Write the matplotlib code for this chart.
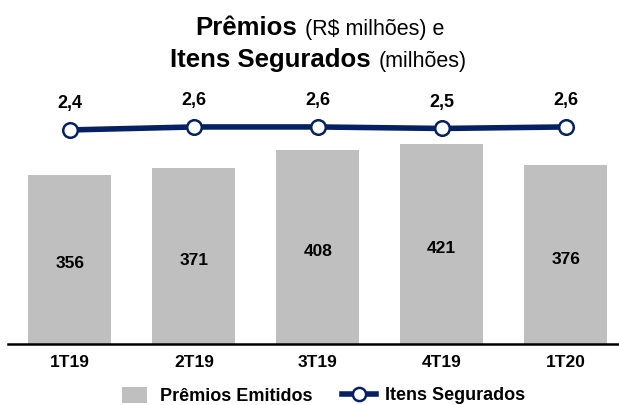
import matplotlib.pyplot as plt
from matplotlib.patches import Patch
from matplotlib.lines import Line2D

plt.rcParams['font.family'] = ['Liberation Sans', 'DejaVu Sans']

quarters = ['1T19', '2T19', '3T19', '4T19', '1T20']
premios = [356, 371, 408, 421, 376]
itens = [2.4, 2.6, 2.6, 2.5, 2.6]
itens_labels = ['2,4', '2,6', '2,6', '2,5', '2,6']

bar_color = '#bfbfbf'
line_color = '#062163'

W, H = 619, 405
fig = plt.figure(figsize=(W / 100, H / 100), dpi=100)
# axes in pixel units: x 8..619, y (top) 95..344
ax = fig.add_axes([8 / W, 1 - 344 / H, 611 / W, (344 - 95) / H])

x = list(range(len(quarters)))
ax.bar(x, premios, width=0.67, color=bar_color, zorder=1)
for xi, v in zip(x, premios):
    ax.text(xi, v * 0.475, str(v), ha='center', va='center',
            fontsize=12.5, fontweight='bold')
ax.set_xlim(-0.5, 4.43)
ax.set_ylim(0, 524)
ax.set_xticks(x)
ax.set_xticklabels(quarters, fontsize=12.5, fontweight='bold')
ax.tick_params(axis='x', length=0, pad=8)
ax.set_yticks([])
for s in ['top', 'right', 'left']:
    ax.spines[s].set_visible(False)
ax.spines['bottom'].set_linewidth(1.8)

ax2 = ax.twinx()
ax2.plot(x, itens, color=line_color, lw=4, marker='o', markersize=10.5,
         markerfacecolor='white', markeredgecolor=line_color,
         markeredgewidth=1.8, zorder=3)
for xi, v, lab in zip(x, itens, itens_labels):
    ax2.annotate(lab, (xi, v), xytext=(0, 19), textcoords='offset points',
                 ha='center', va='center', fontsize=13, fontweight='bold')
ax2.set_ylim(-11.87, 4.73)
ax2.set_yticks([])
for s in ax2.spines.values():
    s.set_visible(False)

# title: bold part + normal part on the same baseline
renderer = fig.canvas.get_renderer()
title_lines = [('Prêmios', '(R$ milhões) e', 195, 35),
               ('Itens Segurados', '(milhões)', 170, 67)]
for bold, normal, px, base in title_lines:
    t = fig.text(px / W, 1 - base / H, bold, fontsize=18.5, fontweight='bold',
                 ha='left', va='baseline')
    x1 = t.get_window_extent(renderer).x1
    fig.text((x1 + 8) / W, 1 - base / H, normal, fontsize=15.5,
             ha='left', va='baseline')

# legend: two pieces so each handle keeps its own length
leg1 = fig.legend([Patch(facecolor=bar_color, edgecolor='none')],
                  ['Prêmios Emitidos'], loc='center left',
                  bbox_to_anchor=(122 / W, 1 - 396 / H), frameon=False,
                  prop={'weight': 'bold', 'size': 13}, borderpad=0,
                  borderaxespad=0, handlelength=1.4, handleheight=1.05,
                  handletextpad=0.72)
line_handle = Line2D([0], [0], color=line_color, lw=4, marker='o',
                     markersize=9.5, markerfacecolor='white',
                     markeredgecolor=line_color, markeredgewidth=1.8)
leg2 = fig.legend([line_handle], ['Itens Segurados'], loc='center left',
                  bbox_to_anchor=(342 / W, 1 - 396 / H), frameon=False,
                  prop={'weight': 'bold', 'size': 13}, borderpad=0,
                  borderaxespad=0, handlelength=1.9, handletextpad=0.5)

fig.savefig('out.png', dpi=100)
